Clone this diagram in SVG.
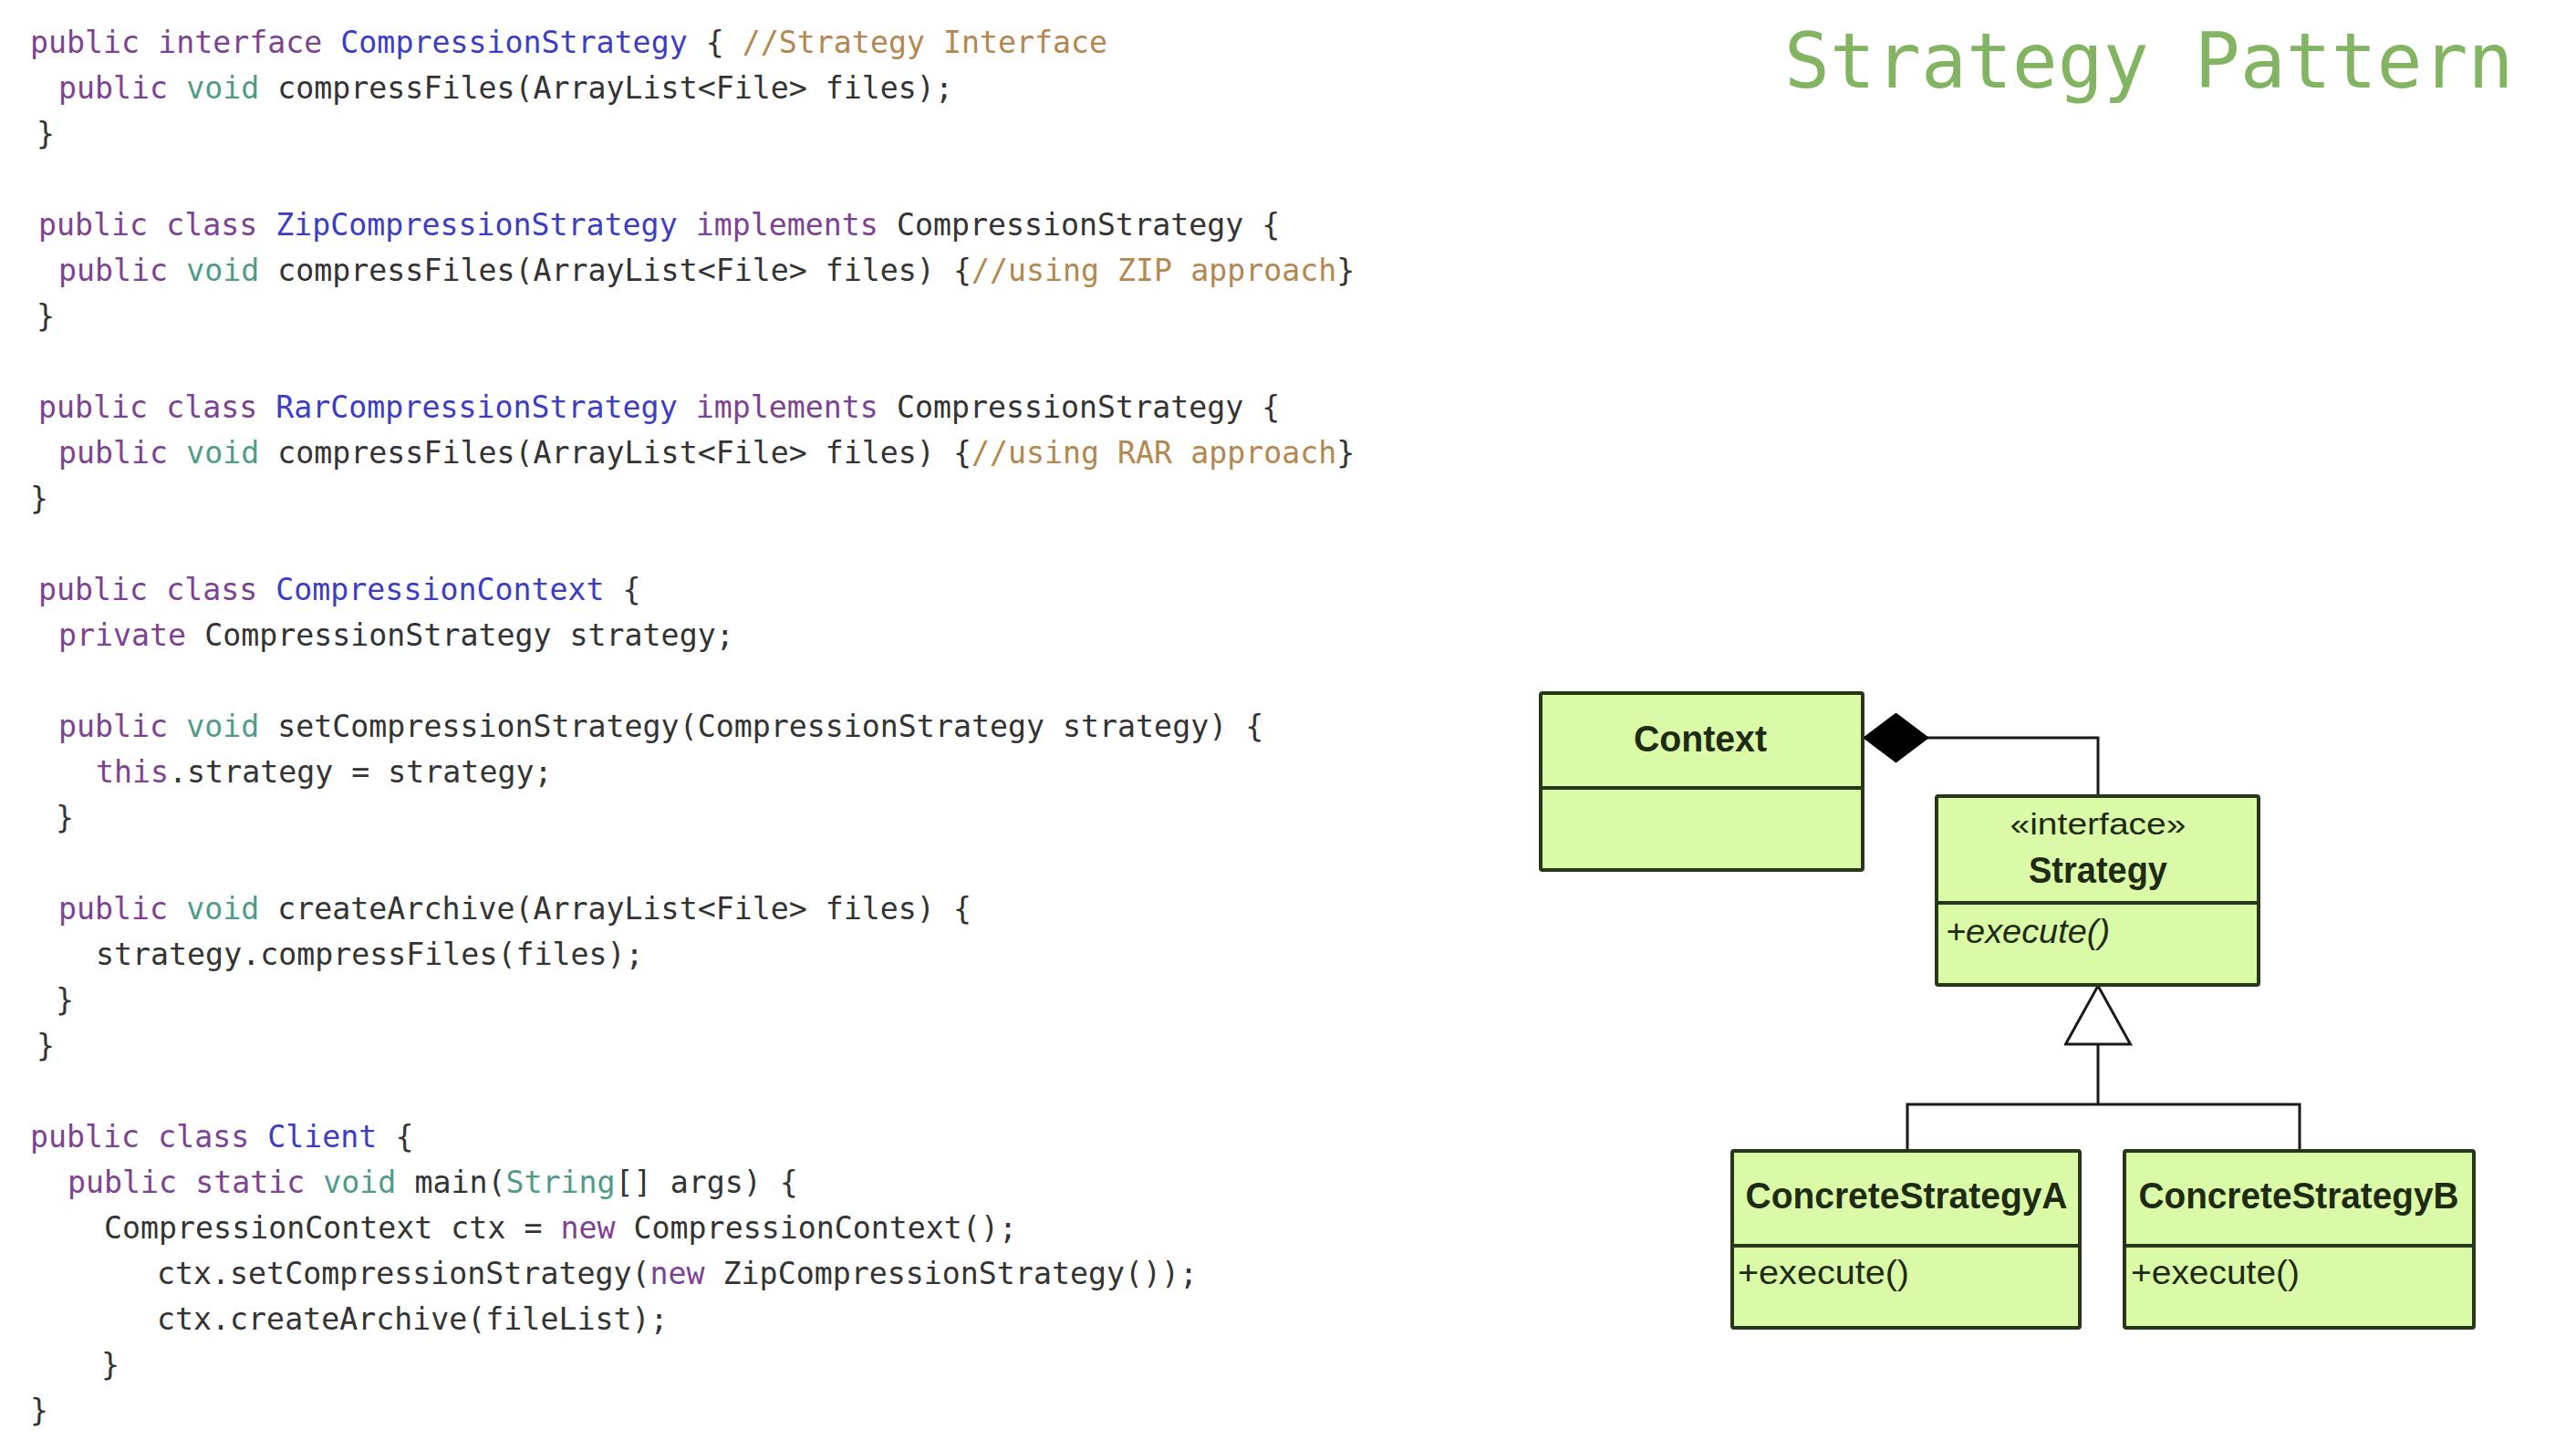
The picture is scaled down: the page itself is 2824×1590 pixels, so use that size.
<svg xmlns="http://www.w3.org/2000/svg" width="2824" height="1590" viewBox="0 0 2824 1590">
<style>
.code{font-family:"DejaVu Sans Mono","Liberation Mono",monospace;font-size:33.25px;fill:#333333;white-space:pre}
.kw{fill:#7d4291}
.ty{fill:#4f9b88}
.nm{fill:#3d3dc2}
.cm{fill:#b4874f}
.title{font-family:"DejaVu Sans Mono","Liberation Mono",monospace;font-size:83px;fill:#82b461}
.box{fill:#dbfaa7;stroke:#28361a;stroke-width:4}
.sep{fill:none;stroke:#28361a;stroke-width:4}
.uml{font-family:"Liberation Sans",Arial,sans-serif;fill:#1e2a12}
.cls{font-weight:bold;font-size:40px}
.ster{font-size:34px}
.op{font-size:36px}
.conn{fill:none;stroke:#1a1a1a;stroke-width:3}
</style>
<defs>
<marker id="diamond" markerUnits="userSpaceOnUse" viewBox="0 0 73 55" markerWidth="73" markerHeight="55" refX="73" refY="27.5" orient="auto">
<path d="M0,27.5 L36.5,0 L73,27.5 L36.5,55 Z" fill="#000000"/>
</marker>
<marker id="tri" markerUnits="userSpaceOnUse" viewBox="-2 -2 68 75" markerWidth="68" markerHeight="75" refX="64" refY="35.5" orient="auto">
<path d="M0,0 L64,35.5 L0,71 Z" fill="#ffffff" stroke="#1a1a1a" stroke-width="3" stroke-linejoin="miter"/>
</marker>
</defs>
<rect width="2824" height="1590" fill="#ffffff"/>

<g id="code">
<text class="code" x="33" y="58"><tspan class="kw">public interface</tspan> <tspan class="nm">CompressionStrategy</tspan> { <tspan class="cm">//Strategy Interface</tspan></text>
<text class="code" x="64" y="108"><tspan class="kw">public</tspan> <tspan class="ty">void</tspan> compressFiles(ArrayList&lt;File&gt; files);</text>
<text class="code" x="40" y="158">}</text>
<text class="code" x="42" y="258"><tspan class="kw">public class</tspan> <tspan class="nm">ZipCompressionStrategy</tspan> <tspan class="kw">implements</tspan> CompressionStrategy {</text>
<text class="code" x="64" y="308"><tspan class="kw">public</tspan> <tspan class="ty">void</tspan> compressFiles(ArrayList&lt;File&gt; files) {<tspan class="cm">//using ZIP approach</tspan>}</text>
<text class="code" x="40" y="358">}</text>
<text class="code" x="42" y="458"><tspan class="kw">public class</tspan> <tspan class="nm">RarCompressionStrategy</tspan> <tspan class="kw">implements</tspan> CompressionStrategy {</text>
<text class="code" x="64" y="508"><tspan class="kw">public</tspan> <tspan class="ty">void</tspan> compressFiles(ArrayList&lt;File&gt; files) {<tspan class="cm">//using RAR approach</tspan>}</text>
<text class="code" x="33" y="558">}</text>
<text class="code" x="42" y="658"><tspan class="kw">public class</tspan> <tspan class="nm">CompressionContext</tspan> {</text>
<text class="code" x="64" y="708"><tspan class="kw">private</tspan> CompressionStrategy strategy;</text>
<text class="code" x="64" y="808"><tspan class="kw">public</tspan> <tspan class="ty">void</tspan> setCompressionStrategy(CompressionStrategy strategy) {</text>
<text class="code" x="105" y="858"><tspan class="kw">this</tspan>.strategy = strategy;</text>
<text class="code" x="61" y="908">}</text>
<text class="code" x="64" y="1008"><tspan class="kw">public</tspan> <tspan class="ty">void</tspan> createArchive(ArrayList&lt;File&gt; files) {</text>
<text class="code" x="105" y="1058">strategy.compressFiles(files);</text>
<text class="code" x="61" y="1108">}</text>
<text class="code" x="40" y="1158">}</text>
<text class="code" x="33" y="1258"><tspan class="kw">public class</tspan> <tspan class="nm">Client</tspan> {</text>
<text class="code" x="74" y="1308"><tspan class="kw">public static</tspan> <tspan class="ty">void</tspan> main(<tspan class="ty">String</tspan>[] args) {</text>
<text class="code" x="114" y="1358">CompressionContext ctx = <tspan class="kw">new</tspan> CompressionContext();</text>
<text class="code" x="172" y="1408">ctx.setCompressionStrategy(<tspan class="kw">new</tspan> ZipCompressionStrategy());</text>
<text class="code" x="172" y="1458">ctx.createArchive(fileList);</text>
<text class="code" x="111" y="1508">}</text>
<text class="code" x="33" y="1558">}</text>
</g>

<text id="title" class="title" x="1956" y="96">Strategy Pattern</text>

<g id="connectors">
<path class="conn" d="M2300,873 V809 H2042" marker-end="url(#diamond)"/>
<path class="conn" d="M2091,1262 V1211 H2521 V1262"/>
<path class="conn" d="M2300,1211 V1081" marker-end="url(#tri)"/>
</g>

<g id="context">
<rect class="box" x="1689" y="760" width="353" height="194" rx="2"/>
<line class="sep" x1="1689" y1="864" x2="2042" y2="864"/>
<text class="uml cls" x="1864" y="824" text-anchor="middle" textLength="146" lengthAdjust="spacingAndGlyphs">Context</text>
</g>

<g id="strategy">
<rect class="box" x="2123" y="873" width="353" height="207" rx="2"/>
<line class="sep" x1="2123" y1="990" x2="2476" y2="990"/>
<text class="uml ster" x="2300" y="915" text-anchor="middle" textLength="193" lengthAdjust="spacingAndGlyphs">«interface»</text>
<text class="uml cls" x="2300" y="968" text-anchor="middle" textLength="152" lengthAdjust="spacingAndGlyphs">Strategy</text>
<text class="uml op" x="2133" y="1034" font-style="italic" textLength="180" lengthAdjust="spacingAndGlyphs">+execute()</text>
</g>

<g id="concreteA">
<rect class="box" x="1899" y="1262" width="381" height="194" rx="2"/>
<line class="sep" x1="1899" y1="1366" x2="2280" y2="1366"/>
<text class="uml cls" x="2090" y="1325" text-anchor="middle" textLength="353" lengthAdjust="spacingAndGlyphs">ConcreteStrategyA</text>
<text class="uml op" x="1905" y="1408" textLength="188" lengthAdjust="spacingAndGlyphs">+execute()</text>
</g>

<g id="concreteB">
<rect class="box" x="2329" y="1262" width="383" height="194" rx="2"/>
<line class="sep" x1="2329" y1="1366" x2="2712" y2="1366"/>
<text class="uml cls" x="2520" y="1325" text-anchor="middle" textLength="351" lengthAdjust="spacingAndGlyphs">ConcreteStrategyB</text>
<text class="uml op" x="2336" y="1408" textLength="185" lengthAdjust="spacingAndGlyphs">+execute()</text>
</g>
</svg>
